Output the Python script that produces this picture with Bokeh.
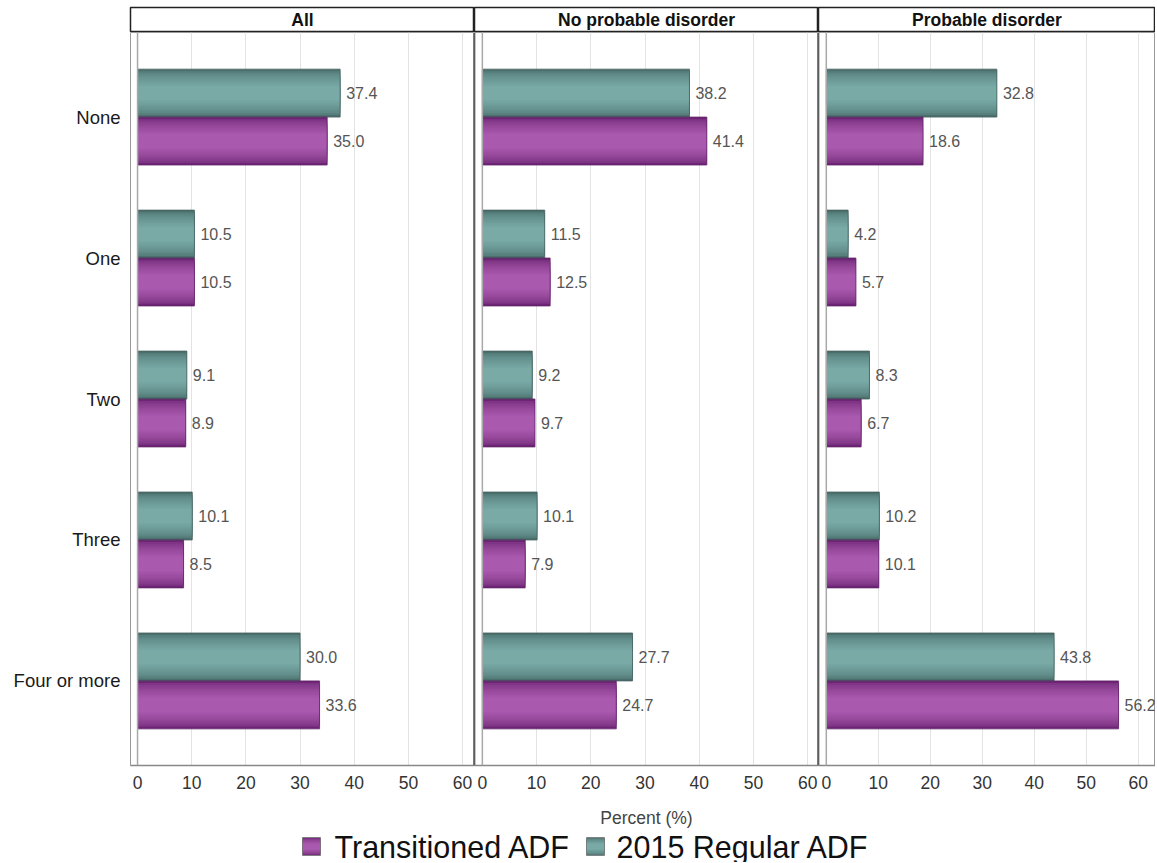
from bokeh.plotting import figure
from bokeh.models import ColumnDataSource, FactorRange, Range1d, Span, FixedTicker
from bokeh.layouts import row, column
from bokeh.transform import dodge
from bokeh.embed import file_html
from bokeh.resources import INLINE
from bokeh.core.properties import value

# ---------------- data ----------------
categories = ["None", "One", "Two", "Three", "Four or more"]
panel_titles = ["All", "No probable disorder", "Probable disorder"]
series_names = ["Transitioned ADF", "2015 Regular ADF"]

transitioned_all = [35.0, 10.5, 8.9, 8.5, 33.6]
regular_all = [37.4, 10.5, 9.1, 10.1, 30.0]
transitioned_no_disorder = [41.4, 12.5, 9.7, 7.9, 24.7]
regular_no_disorder = [38.2, 11.5, 9.2, 10.1, 27.7]
transitioned_disorder = [18.6, 5.7, 6.7, 10.1, 56.2]
regular_disorder = [32.8, 4.2, 8.3, 10.2, 43.8]

x_ticks = [0, 10, 20, 30, 40, 50, 60]
x_label = "Percent (%)"

panel_data = [
    (transitioned_all, regular_all),
    (transitioned_no_disorder, regular_no_disorder),
    (transitioned_disorder, regular_disorder),
]

# ---------------- styles ----------------
FONT = "Liberation Sans"


def mix(c1, c2, t):
    a = [int(c1[k:k + 2], 16) for k in (1, 3, 5)]
    b = [int(c2[k:k + 2], 16) for k in (1, 3, 5)]
    return "#%02x%02x%02x" % tuple(int(round(a[j] + (b[j] - a[j]) * t)) for j in range(3))


def shading(edge, center, n=9):
    # list of (height fraction, colour) from outer band to inner band
    out = []
    for k in range(n):
        t = k / (n - 1)
        frac = 1.0 - 0.7 * t
        out.append((frac, mix(edge, center, min(1.0, (t ** 0.6)))))
    return out


TEAL_LAYERS = shading("#4a6f6d", "#79aaa6")
PURPLE_LAYERS = shading("#6e2474", "#aa5aae")
BAR_H = 0.34
OFF = 0.17

frame_widths = [344, 344, 337]
left_borders = [130, 0, 0]
x_ranges = [(-1.3, 62.2), (-1.45, 62.0), (-1.5, 63.3)]
HEADER_TOP = 7
HEADER_H = 25
FRAME_H = 733
AXIS_H = 32

headers = []
mains = []
for i, (trans, reg) in enumerate(panel_data):
    # header strip
    h = figure(frame_width=frame_widths[i], frame_height=HEADER_H,
               min_border_left=left_borders[i], min_border_right=0,
               min_border_top=HEADER_TOP, min_border_bottom=0,
               x_range=Range1d(0, 1), y_range=Range1d(0, 1),
               x_axis_type=None, y_axis_type=None,
               toolbar_location=None, output_backend="svg")
    h.grid.visible = False
    h.outline_line_color = "#222222"
    h.outline_line_width = 1.5
    h.text(x=[0.5], y=[0.5], text=[panel_titles[i]], text_align="center",
           text_baseline="middle", text_font=value(FONT), text_font_style="bold",
           text_font_size="17.5px", text_color="#111111")
    headers.append(h)

    src = ColumnDataSource(dict(
        cat=categories,
        trans=trans,
        reg=reg,
        trans_lbl=["%.1f" % v for v in trans],
        reg_lbl=["%.1f" % v for v in reg],
    ))

    yr = FactorRange(factors=list(reversed(categories)), range_padding=0.04)
    p = figure(frame_width=frame_widths[i], frame_height=FRAME_H,
               min_border_left=left_borders[i], min_border_right=0,
               min_border_top=0, min_border_bottom=AXIS_H,
               x_range=Range1d(*x_ranges[i]), y_range=yr,
               toolbar_location=None, output_backend="svg")
    p.background_fill_color = "white"
    p.outline_line_color = "#999999"
    p.outline_line_width = 1

    p.xgrid.ticker = FixedTicker(ticks=x_ticks)
    p.xgrid.grid_line_color = "#e3e3e3"
    p.xgrid.grid_line_width = 1
    p.ygrid.grid_line_color = None

    p.xaxis.ticker = FixedTicker(ticks=x_ticks)
    p.xaxis.major_tick_line_color = None
    p.xaxis.major_tick_out = 0
    p.xaxis.minor_tick_line_color = None
    p.xaxis.axis_line_color = "#888888"
    p.xaxis.axis_line_width = 1.5
    p.xaxis.major_label_text_font = FONT
    p.xaxis.major_label_text_font_size = "17.5px"
    p.xaxis.major_label_text_color = "#333333"
    p.xaxis.major_label_standoff = 10

    if i == 0:
        p.yaxis.major_tick_line_color = None
        p.yaxis.major_tick_out = 0
        p.yaxis.minor_tick_line_color = None
        p.yaxis.axis_line_color = None
        p.yaxis.major_label_text_font = FONT
        p.yaxis.major_label_text_font_size = "18.5px"
        p.yaxis.major_label_text_color = "#1a1a1a"
        p.yaxis.major_label_standoff = 10
    else:
        p.yaxis.visible = False

    # zero reference line
    p.add_layout(Span(location=0, dimension="height", line_color="#a8a8a8", line_width=1.5))
    # dark dividers between panels
    if i < 2:
        p.add_layout(Span(location=x_ranges[i][1], dimension="height", line_color="#222222", line_width=1.5))
    if i > 0:
        p.add_layout(Span(location=x_ranges[i][0], dimension="height", line_color="#222222", line_width=1.5))

    # bars with a banded shading
    for frac, col in TEAL_LAYERS:
        p.hbar(y=dodge("cat", OFF, range=yr), left=0, right="reg", height=BAR_H * frac,
               source=src, fill_color=col, line_color=None)
    for frac, col in PURPLE_LAYERS:
        p.hbar(y=dodge("cat", -OFF, range=yr), left=0, right="trans", height=BAR_H * frac,
               source=src, fill_color=col, line_color=None)
    p.hbar(y=dodge("cat", OFF, range=yr), left=0, right="reg", height=BAR_H,
           source=src, fill_color=None, line_color="#45605e", line_width=0.8)
    p.hbar(y=dodge("cat", -OFF, range=yr), left=0, right="trans", height=BAR_H,
           source=src, fill_color=None, line_color="#62246a", line_width=0.8)

    p.text(x="reg", y=dodge("cat", OFF, range=yr), text="reg_lbl", source=src,
           x_offset=6, text_baseline="middle", text_align="left",
           text_font=value(FONT), text_font_size="16px", text_color="#555555")
    p.text(x="trans", y=dodge("cat", -OFF, range=yr), text="trans_lbl", source=src,
           x_offset=6, text_baseline="middle", text_align="left",
           text_font=value(FONT), text_font_size="16px", text_color="#555555")
    mains.append(p)

# ---------------- bottom: axis title + legend ----------------
TOTAL_W = left_borders[0] + sum(frame_widths)
BOT_H = 65
b = figure(width=TOTAL_W, height=BOT_H, x_range=Range1d(0, TOTAL_W), y_range=Range1d(BOT_H, 0),
           x_axis_type=None, y_axis_type=None, toolbar_location=None,
           output_backend="svg", min_border=0)
b.grid.visible = False
b.outline_line_color = None
b.text(x=[646], y=[20], text=[x_label], text_align="center", text_baseline="middle",
       text_font=value(FONT), text_font_size="17.5px", text_color="#444444")

legend_sq_x = [302, 586]
legend_txt_x = [334, 616]
legend_layers = [PURPLE_LAYERS, TEAL_LAYERS]
ly = 49
for k in range(2):
    for frac, col in legend_layers[k]:
        b.rect(x=[legend_sq_x[k] + 9], y=[ly], width=18, height=18 * frac,
               fill_color=col, line_color=None)
    b.rect(x=[legend_sq_x[k] + 9], y=[ly], width=18, height=18,
           fill_color=None, line_color="#777777", line_width=0.8)
    b.text(x=[legend_txt_x[k]], y=[ly], text=[series_names[k]], text_align="left",
           text_baseline="middle", text_font=value(FONT), text_font_size="30.5px",
           text_color="#111111")

top = row(*[column(headers[i], mains[i]) for i in range(3)])
layout = column(top, b)

open("out.html", "w").write(file_html(layout, INLINE))
